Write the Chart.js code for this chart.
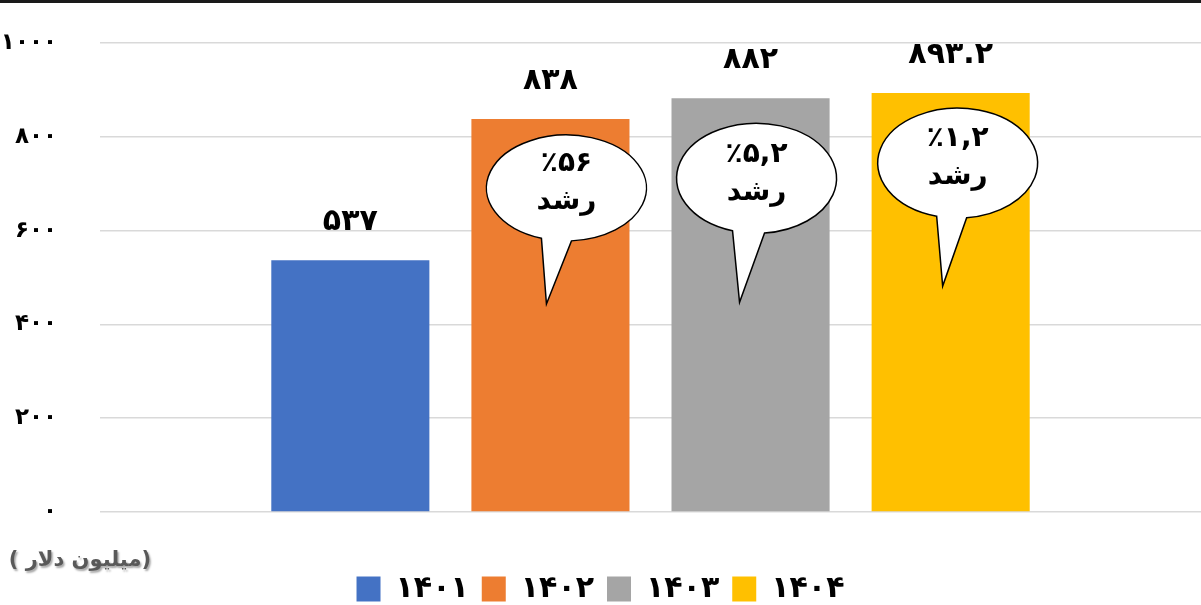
<!DOCTYPE html>
<html>
<head>
    <meta charset="utf-8">
    <title>Growth Chart</title>
    <script src="https://cdn.jsdelivr.net/npm/chart.js"></script>
    <style>
        body { margin: 0; background: #fff; }
        canvas { display: block; }
    </style>
</head>
<body>
    <canvas id="growthChart" width="1201" height="605"></canvas>

    <script>
        // chart data
        const years = ['۱۴۰۱', '۱۴۰۲', '۱۴۰۳', '۱۴۰۴'];
        const values = [537, 838, 882, 893.2];
        const valueLabels = ['۵۳۷', '۸۳۸', '۸۸۲', '۸۹۳.۲'];
        const growthLabels = [null, '٪۵۶', '٪۵,۲', '٪۱,۲'];
        const growthWord = 'رشد';
        const unitLabel = '(میلیون دلار )';
        const colors = ['#4472C4', '#ED7D31', '#A5A5A5', '#FFC000'];

        const faDigits = '۰۱۲۳۴۵۶۷۸۹';
        const toFa = n => String(n).replace(/\d/g, d => faDigits[d]);

        // speech bubble shapes, relative to the top centre of each bar
        const bubbleShapes = [
            null,
            { dx: 16, dy: 69, rx: 80, ry: 53, baseL: -25, baseR: 5, tipDx: -4, tipDy: 185 },
            { dx: 6, dy: 80, rx: 80, ry: 55, baseL: -24, baseR: 8, tipDx: -11, tipDy: 204 },
            { dx: 7, dy: 70, rx: 80, ry: 55, baseL: -21, baseR: 9, tipDx: -8, tipDy: 193 }
        ];

        const FONT = '"DejaVu Sans", sans-serif';

        const extras = {
            id: 'extras',
            afterDatasetsDraw(chart) {
                const c = chart.ctx;
                c.save();
                c.font = 'bold 30px ' + FONT;
                c.fillStyle = '#000';
                c.textAlign = 'center';
                c.textBaseline = 'middle';
                chart.data.datasets.forEach((ds, i) => {
                    const bar = chart.getDatasetMeta(i).data[0];
                    c.fillText(valueLabels[i], bar.x, bar.y - 38);
                });

                // callouts
                chart.data.datasets.forEach((ds, i) => {
                    const s = bubbleShapes[i];
                    if (!s || !growthLabels[i]) return;
                    const bar = chart.getDatasetMeta(i).data[0];
                    const cx = bar.x + s.dx, cy = bar.y + s.dy;
                    const angle = a => Math.atan2(Math.sqrt(Math.max(0, 1 - (a / s.rx) ** 2)), a / s.rx);
                    const tL = angle(s.baseL), tR = angle(s.baseR);
                    c.beginPath();
                    c.moveTo(bar.x + s.tipDx, bar.y + s.tipDy);
                    c.lineTo(cx + s.rx * Math.cos(tL), cy + s.ry * Math.sin(tL));
                    c.ellipse(cx, cy, s.rx, s.ry, 0, tL, tR + Math.PI * 2, false);
                    c.closePath();
                    c.fillStyle = '#fff';
                    c.fill();
                    c.lineWidth = 1.5;
                    c.strokeStyle = '#000';
                    c.stroke();

                    c.fillStyle = '#000';
                    c.font = 'bold 28px ' + FONT;
                    c.fillText(growthLabels[i], cx, cy - 24);
                    c.fillText(growthWord, cx, cy + 14);
                });

                c.restore();
            },
            afterDraw(chart) {
                const c = chart.ctx;
                c.save();
                // frame line at the top
                c.fillStyle = '#1a1a1a';
                c.fillRect(0, 0, chart.width, 3);
                // unit text under the y axis
                c.font = 'bold 21px ' + FONT;
                c.fillStyle = '#595959';
                c.shadowColor = 'rgba(0,0,0,0.35)';
                c.shadowOffsetX = 1.5;
                c.shadowOffsetY = 1.5;
                c.shadowBlur = 2;
                c.textBaseline = 'middle';
                c.direction = 'rtl';
                c.textAlign = 'right';
                c.fillText(unitLabel, 151, 561);
                c.restore();
            }
        };

        const ctx = document.getElementById('growthChart').getContext('2d');
        new Chart(ctx, {
            type: 'bar',
            data: {
                labels: [''],
                datasets: years.map((y, i) => ({
                    label: y,
                    data: [values[i]],
                    backgroundColor: colors[i],
                    categoryPercentage: 0.727,
                    barPercentage: 0.79
                }))
            },
            options: {
                responsive: false,
                animation: false,
                layout: { padding: { top: 43, bottom: -9, left: 0, right: 0 } },
                scales: {
                    x: {
                        display: true,
                        grid: { display: false },
                        border: { display: false },
                        ticks: { display: false },
                        afterFit: s => { s.height = 49; }
                    },
                    y: {
                        min: 0,
                        max: 1000,
                        ticks: {
                            stepSize: 200,
                            padding: 43,
                            color: '#000',
                            font: { family: FONT, size: 23, weight: 'bold' },
                            callback: v => toFa(v)
                        },
                        grid: { color: '#d9d9d9', lineWidth: 1.5, drawTicks: false },
                        border: { display: false },
                        afterFit: s => {
                            s.width = 100;
                            s.paddingTop = 0;
                            s.paddingBottom = 0;
                        }
                    }
                },
                plugins: {
                    legend: {
                        position: 'bottom',
                        labels: {
                            boxWidth: 24,
                            boxHeight: 25,
                            padding: 13,
                            color: '#000',
                            font: { family: FONT, size: 30, weight: 'bold' }
                        }
                    },
                    tooltip: { enabled: false }
                }
            },
            plugins: [extras]
        });
    </script>
</body>
</html>
